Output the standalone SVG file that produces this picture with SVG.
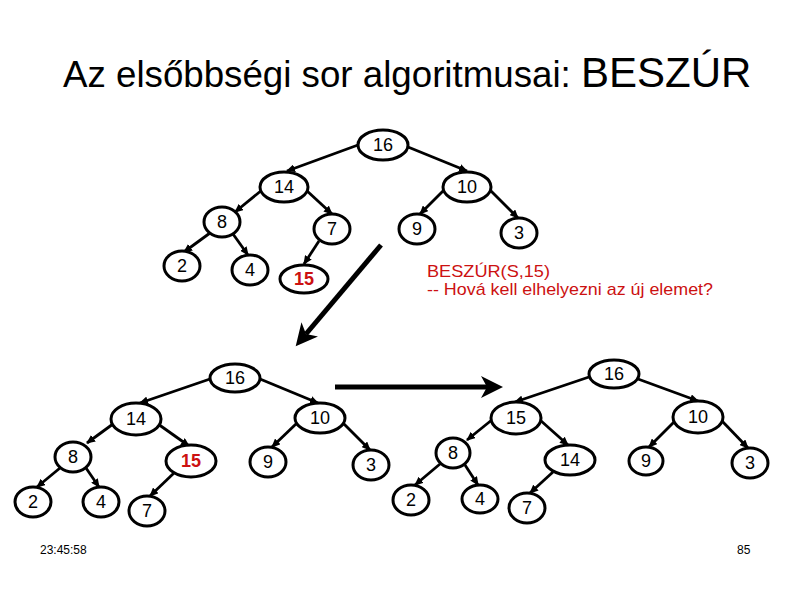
<svg xmlns="http://www.w3.org/2000/svg" width="794" height="595" viewBox="0 0 794 595">
<defs>
<marker id="ah" markerUnits="userSpaceOnUse" markerWidth="9" markerHeight="8" refX="8" refY="4" orient="auto"><path d="M0,0 L9,4 L0,8 z" fill="#000"/></marker>
<marker id="big" markerUnits="userSpaceOnUse" markerWidth="24" markerHeight="22" refX="6" refY="11" orient="auto"><path d="M0,0 L22,11 L0,22 L6,11 z" fill="#000"/></marker>
</defs>
<style>
.n ellipse{fill:#fff;stroke:#000;stroke-width:3}
.n text{font-family:"Liberation Sans",Arial,sans-serif;font-size:18px;text-anchor:middle;fill:#000}
.n text.r{fill:#cc1111;font-weight:bold}
.e line{stroke:#000;stroke-width:2.8;marker-end:url(#ah)}
.b line{stroke:#000;stroke-width:5;marker-end:url(#big)}
.t{font-family:"Liberation Sans",Arial,sans-serif;fill:#000}
.red{font-family:"Liberation Sans",Arial,sans-serif;font-size:17px;fill:#cc1111}
.f{font-family:"Liberation Sans",Arial,sans-serif;font-size:12px;fill:#000}
</style>
<rect width="794" height="595" fill="#fff"/>
<text class="t" x="63" y="87" font-size="36.7">Az elsőbbségi sor algoritmusai: <tspan font-size="42">BESZÚR</tspan></text>

<g class="e" id="edges-top">
<line x1="358" y1="145" x2="287" y2="171"/>
<line x1="408" y1="147" x2="467" y2="171"/>
<line x1="262" y1="190" x2="235" y2="212"/>
<line x1="306" y1="190" x2="332" y2="214"/>
<line x1="444" y1="190" x2="420" y2="214"/>
<line x1="490" y1="190" x2="518" y2="218"/>
<line x1="210" y1="233" x2="184" y2="252"/>
<line x1="233" y1="234" x2="248" y2="255"/>
<line x1="319" y1="241" x2="304" y2="264"/>
</g>
<g class="e" id="edges-bl">
<line x1="210" y1="379" x2="140" y2="403"/>
<line x1="260" y1="379" x2="318" y2="403"/>
<line x1="113" y1="424" x2="87" y2="443"/>
<line x1="158" y1="424" x2="189" y2="446"/>
<line x1="297" y1="423" x2="272" y2="447"/>
<line x1="343" y1="423" x2="370" y2="450"/>
<line x1="60" y1="468" x2="37" y2="487"/>
<line x1="86" y1="468" x2="99" y2="487"/>
<line x1="174" y1="473" x2="150" y2="496"/>
</g>
<g class="e" id="edges-br">
<line x1="589" y1="377" x2="515" y2="402"/>
<line x1="638" y1="379" x2="698" y2="401"/>
<line x1="493" y1="419" x2="467" y2="440"/>
<line x1="540" y1="420" x2="568" y2="445"/>
<line x1="675" y1="421" x2="649" y2="447"/>
<line x1="722" y1="421" x2="748" y2="448"/>
<line x1="440" y1="464" x2="415" y2="485"/>
<line x1="465" y1="465" x2="478" y2="485"/>
<line x1="553" y1="472" x2="530" y2="493"/>
</g>
<g class="b" id="big-arrows">
<line x1="381" y1="245" x2="306" y2="334"/>
<line x1="335" y1="387" x2="487" y2="387"/>
</g>

<g class="n" id="t-16"><ellipse cx="383" cy="145" rx="25" ry="15"/><text x="383" y="151">16</text></g>
<g class="n" id="t-14"><ellipse cx="284" cy="187" rx="24" ry="15"/><text x="284" y="193">14</text></g>
<g class="n" id="t-10"><ellipse cx="467" cy="187" rx="24" ry="15"/><text x="467" y="193">10</text></g>
<g class="n" id="t-8"><ellipse cx="222" cy="222" rx="18" ry="15"/><text x="222" y="228">8</text></g>
<g class="n" id="t-7"><ellipse cx="332" cy="229" rx="18" ry="15"/><text x="332" y="235">7</text></g>
<g class="n" id="t-9"><ellipse cx="417" cy="229" rx="18" ry="15"/><text x="417" y="235">9</text></g>
<g class="n" id="t-3"><ellipse cx="519" cy="233" rx="18" ry="15"/><text x="519" y="239">3</text></g>
<g class="n" id="t-2"><ellipse cx="182" cy="266" rx="18" ry="15"/><text x="182" y="272">2</text></g>
<g class="n" id="t-4"><ellipse cx="250" cy="270" rx="18" ry="15"/><text x="250" y="276">4</text></g>
<g class="n" id="t-15"><ellipse cx="304" cy="279" rx="24" ry="14"/><text class="r" x="304" y="285">15</text></g>

<g class="n" id="bl-16"><ellipse cx="235" cy="378" rx="25" ry="14"/><text x="235" y="384">16</text></g>
<g class="n" id="bl-14"><ellipse cx="136" cy="419" rx="25" ry="16"/><text x="136" y="425">14</text></g>
<g class="n" id="bl-10"><ellipse cx="320" cy="418" rx="25" ry="15"/><text x="320" y="424">10</text></g>
<g class="n" id="bl-8"><ellipse cx="73" cy="457" rx="18" ry="15"/><text x="73" y="463">8</text></g>
<g class="n" id="bl-15"><ellipse cx="191" cy="461" rx="25" ry="16"/><text class="r" x="191" y="467">15</text></g>
<g class="n" id="bl-9"><ellipse cx="268" cy="462" rx="18" ry="15"/><text x="268" y="468">9</text></g>
<g class="n" id="bl-3"><ellipse cx="371" cy="465" rx="18" ry="15"/><text x="371" y="471">3</text></g>
<g class="n" id="bl-2"><ellipse cx="33" cy="502" rx="18" ry="15"/><text x="33" y="508">2</text></g>
<g class="n" id="bl-4"><ellipse cx="101" cy="502" rx="18" ry="15"/><text x="101" y="508">4</text></g>
<g class="n" id="bl-7"><ellipse cx="147" cy="511" rx="18" ry="15"/><text x="147" y="517">7</text></g>

<g class="n" id="br-16"><ellipse cx="614" cy="374" rx="25" ry="14"/><text x="614" y="380">16</text></g>
<g class="n" id="br-15"><ellipse cx="516" cy="418" rx="25" ry="16"/><text x="516" y="424">15</text></g>
<g class="n" id="br-10"><ellipse cx="698" cy="417" rx="25" ry="16"/><text x="698" y="423">10</text></g>
<g class="n" id="br-8"><ellipse cx="453" cy="453" rx="17" ry="15"/><text x="453" y="459">8</text></g>
<g class="n" id="br-14"><ellipse cx="570" cy="460" rx="25" ry="15"/><text x="570" y="466">14</text></g>
<g class="n" id="br-9"><ellipse cx="646" cy="461" rx="17" ry="14"/><text x="646" y="467">9</text></g>
<g class="n" id="br-3"><ellipse cx="750" cy="463" rx="18" ry="15"/><text x="750" y="469">3</text></g>
<g class="n" id="br-2"><ellipse cx="411" cy="500" rx="18" ry="15"/><text x="411" y="506">2</text></g>
<g class="n" id="br-4"><ellipse cx="480" cy="499" rx="18" ry="14"/><text x="480" y="505">4</text></g>
<g class="n" id="br-7"><ellipse cx="527" cy="508" rx="18" ry="15"/><text x="527" y="514">7</text></g>

<text class="red" x="427" y="277" textLength="123" lengthAdjust="spacingAndGlyphs">BESZÚR(S,15)</text>
<text class="red" x="427" y="295" textLength="286" lengthAdjust="spacingAndGlyphs">-- Hová kell elhelyezni az új elemet?</text>

<text class="f" x="40" y="554">23:45:58</text>
<text class="f" x="737" y="554">85</text>
</svg>
